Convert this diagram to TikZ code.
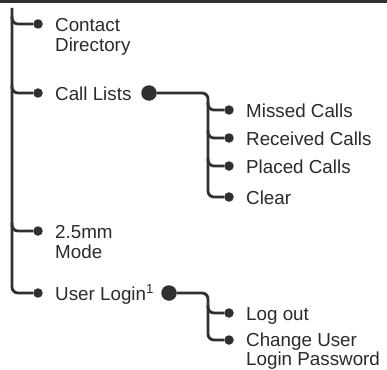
\documentclass[tikz,border=0pt]{standalone}
\usepackage{fontspec}
\setmainfont{Liberation Sans}
\definecolor{ink}{HTML}{303030}
\definecolor{txt}{HTML}{2A2A2A}
\begin{document}
\begin{tikzpicture}[x=1pt,y=-1pt,
  conn/.style={draw=ink,line width=2.8pt,rounded corners=6pt},
  dot/.style={circle,fill=ink,inner sep=0pt,minimum size=9.5pt},
  bigdot/.style={circle,fill=ink,inner sep=0pt,minimum size=15.5pt},
  lbl/.style={anchor=base west,inner sep=0pt,text=txt,align=left,
    font=\fontsize{18.8}{20}\selectfont}]
\useasboundingbox (0,0) rectangle (387,369);
\fill[ink] (0,0) rectangle (387,3.5);
% level 1 dots
\node[dot] (d1) at (38,24) {};
\node[dot] (d2) at (38,93) {};
\node[dot] (d3) at (38,231) {};
\node[dot] (d4) at (38,293) {};
\node[lbl] (t1) at (55,51) {Contact\\Directory};
\node[lbl] (t2) at (55,100) {Call Lists};
\node[lbl] (t3) at (55,258) {2.5mm\\Mode};
\node[lbl] (t4) at (55,300) {User Login\textsuperscript{1}};
\node[bigdot] (b2) at (149,93) {};
\node[bigdot] (b4) at (169,293) {};
\coordinate (top) at (12,8);
\coordinate (m1) at (12,16);
\coordinate (m2) at (12,85);
\coordinate (m3) at (12,223);
% main trunk
\path[conn] (top) |- (d4);
\path[conn] (m1) |- (d1);
\path[conn] (m2) |- (d2);
\path[conn] (m3) |- (d3);
% call lists subtree
\node[dot] (s1) at (229,110) {};
\node[dot] (s2) at (229,138) {};
\node[dot] (s3) at (229,166) {};
\node[dot] (s4) at (229,197) {};
\node[lbl] (u1) at (246,117) {Missed Calls};
\node[lbl] (u2) at (246,145) {Received Calls};
\node[lbl] (u3) at (246,173) {Placed Calls};
\node[lbl] (u4) at (246,204) {Clear};
\coordinate (c0) at (208,93);
\coordinate (c1) at (208,102);
\coordinate (c2) at (208,130);
\coordinate (c3) at (208,158);
\path[conn] (b2) -- (c0) |- (s4);
\path[conn] (c1) |- (s1);
\path[conn] (c2) |- (s2);
\path[conn] (c3) |- (s3);
% user login subtree
\node[dot] (v1) at (229,313) {};
\node[dot] (v2) at (229,340) {};
\node[lbl,font=\fontsize{18.8}{19}\selectfont] (w1) at (246,320) {Log out};
\node[lbl,font=\fontsize{18.8}{19}\selectfont] (w2) at (246,365.5) {Change User\\Login Password};
\coordinate (e0) at (208,293);
\coordinate (e1) at (208,305);
\path[conn] (b4) -- (e0) |- (v2);
\path[conn] (e1) |- (v1);
\end{tikzpicture}
\end{document}
